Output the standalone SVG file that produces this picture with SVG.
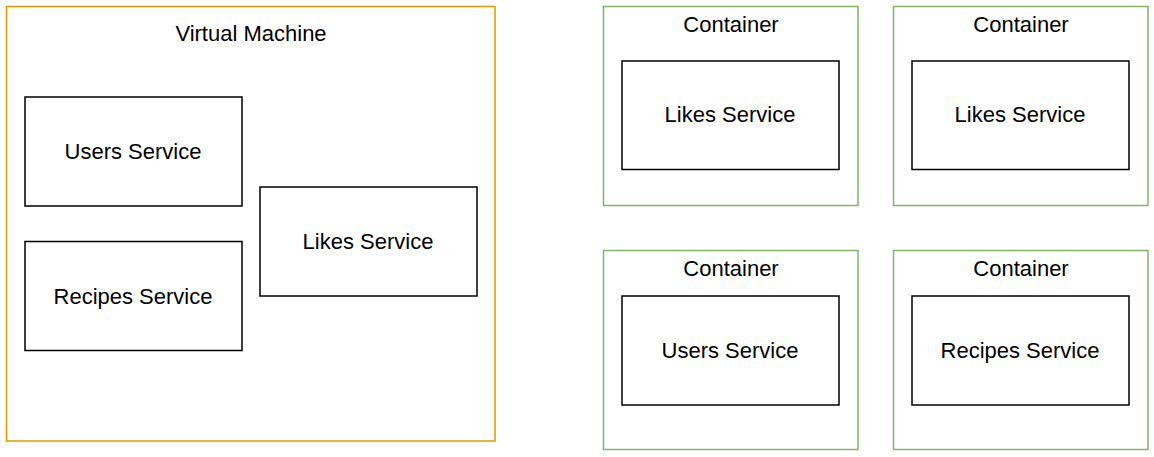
<svg xmlns="http://www.w3.org/2000/svg" width="1154" height="457" viewBox="0 0 1154 457">
<style>
text{font-family:"Liberation Sans",Arial,sans-serif;font-size:22px;fill:#000;text-anchor:middle}
.vm{fill:#fff;stroke:#d79b00;stroke-width:1.5}
.ct{fill:#fff;stroke:#82b366;stroke-width:1.5}
.sv{fill:#fff;stroke:#000;stroke-width:1.5}
</style>
<rect width="1154" height="457" fill="#fff"/>
<g id="vm">
<rect class="vm" x="6.5" y="6.5" width="488.5" height="434.5"/>
<text x="251" y="41">Virtual Machine</text>
</g>
<g id="vm-users">
<rect class="sv" x="25" y="97" width="217" height="109"/>
<text x="133" y="159">Users Service</text>
</g>
<g id="vm-recipes">
<rect class="sv" x="25" y="241.5" width="217" height="109"/>
<text x="133" y="304">Recipes Service</text>
</g>
<g id="vm-likes">
<rect class="sv" x="260" y="187" width="217" height="109"/>
<text x="368" y="249">Likes Service</text>
</g>
<g id="c1">
<rect class="ct" x="603.5" y="6.5" width="254.5" height="199"/>
<text x="731" y="32">Container</text>
</g>
<g id="c1-likes">
<rect class="sv" x="622" y="61" width="217" height="108.5"/>
<text x="730" y="122">Likes Service</text>
</g>
<g id="c2">
<rect class="ct" x="893.5" y="6.5" width="254.5" height="199"/>
<text x="1021" y="32">Container</text>
</g>
<g id="c2-likes">
<rect class="sv" x="912" y="61" width="217" height="108.5"/>
<text x="1020" y="122">Likes Service</text>
</g>
<g id="c3">
<rect class="ct" x="603.5" y="250.5" width="254.5" height="199"/>
<text x="731" y="276">Container</text>
</g>
<g id="c3-users">
<rect class="sv" x="622" y="296" width="217" height="109"/>
<text x="730" y="358">Users Service</text>
</g>
<g id="c4">
<rect class="ct" x="893.5" y="250.5" width="254.5" height="199"/>
<text x="1021" y="276">Container</text>
</g>
<g id="c4-recipes">
<rect class="sv" x="912" y="296" width="217" height="109"/>
<text x="1020" y="358">Recipes Service</text>
</g>
<g id="connectors"></g>
</svg>
